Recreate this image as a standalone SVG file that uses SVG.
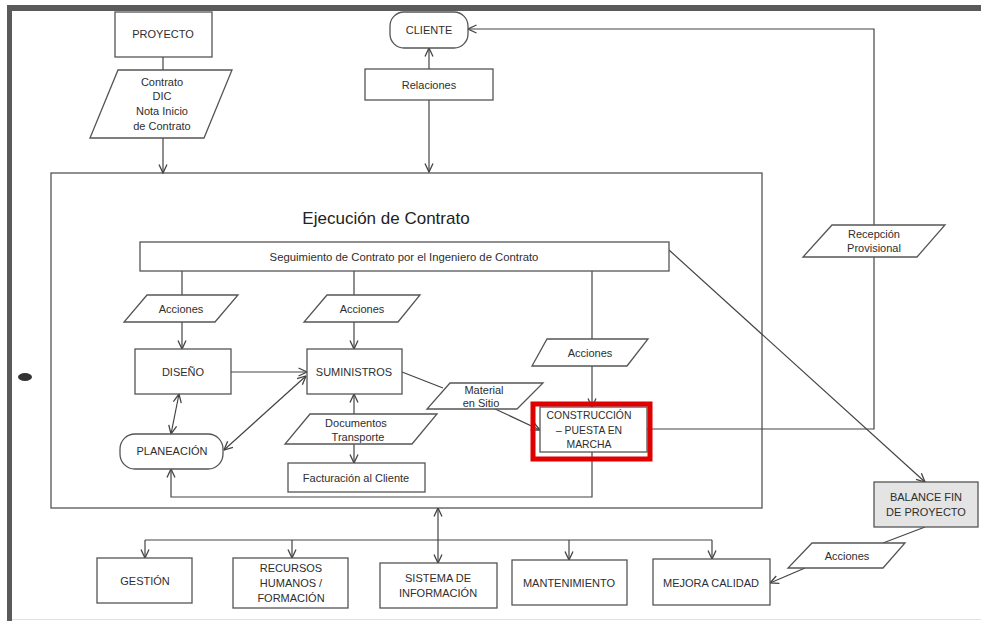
<svg xmlns="http://www.w3.org/2000/svg" width="981" height="621" viewBox="0 0 981 621">
<style>
.b{fill:#fff;stroke:#555;stroke-width:1.3}
.g{fill:#e4e4e4;stroke:#555;stroke-width:1.3}
.c{fill:none;stroke:#444;stroke-width:1.2}
text{font-family:"Liberation Sans",Arial,sans-serif;font-size:11px;fill:#2e2e2e;text-anchor:middle}
.t{font-size:17px;fill:#222}
.s{font-size:10.4px}
</style>
<defs>
<marker id="a" viewBox="0 0 10 10" refX="9.5" refY="5" markerWidth="10" markerHeight="10" markerUnits="userSpaceOnUse" orient="auto-start-reverse">
<path d="M1,1 L9.5,5 L1,9" fill="none" stroke="#444" stroke-width="1.3"/>
</marker>
</defs>
<rect width="981" height="621" fill="#fff"/>
<g id="frame">
<rect x="7" y="5" width="974" height="6" fill="#5a5a5a"/>
<rect x="7" y="5" width="5" height="616" fill="#5a5a5a"/>
<line x1="12" y1="619.5" x2="981" y2="619.5" stroke="#e2e2e2"/>
<ellipse cx="25" cy="377" rx="7" ry="4" fill="#333"/>
</g>
<g id="main-box">
<rect class="b" x="51" y="173" width="711" height="335" fill="none"/>
<text class="t" x="386" y="224">Ejecución de Contrato</text>
</g>
<g id="connectors">
<line class="c" x1="163" y1="57" x2="163" y2="70"/>
<line class="c" x1="163" y1="138" x2="163" y2="173" marker-end="url(#a)"/>
<line class="c" x1="429" y1="69" x2="429" y2="48" marker-end="url(#a)"/>
<line class="c" x1="429" y1="100" x2="429" y2="172" marker-end="url(#a)"/>
<path class="c" d="M647,429 H874 V29 H468" marker-end="url(#a)"/>
<line class="c" x1="182" y1="271" x2="182" y2="295"/>
<line class="c" x1="182" y1="322" x2="182" y2="349" marker-end="url(#a)"/>
<line class="c" x1="354" y1="271" x2="354" y2="295"/>
<line class="c" x1="354" y1="322" x2="354" y2="349" marker-end="url(#a)"/>
<line class="c" x1="592" y1="271" x2="592" y2="339"/>
<line class="c" x1="592" y1="366" x2="592" y2="407" marker-end="url(#a)"/>
<line class="c" x1="231" y1="372" x2="307" y2="372" marker-end="url(#a)"/>
<line class="c" x1="179" y1="394" x2="171" y2="434" marker-start="url(#a)" marker-end="url(#a)"/>
<line class="c" x1="306" y1="376" x2="224" y2="450" marker-start="url(#a)" marker-end="url(#a)"/>
<line class="c" x1="354" y1="414" x2="354" y2="394" marker-end="url(#a)"/>
<line class="c" x1="354" y1="444" x2="354" y2="463" marker-end="url(#a)"/>
<line class="c" x1="402" y1="372" x2="443" y2="388"/>
<line class="c" x1="493" y1="408" x2="540" y2="430" marker-end="url(#a)"/>
<path class="c" d="M592,452 V497 H171 V469" marker-end="url(#a)"/>
<line class="c" x1="669" y1="250" x2="925" y2="482" marker-end="url(#a)"/>
<line class="c" x1="925" y1="527" x2="883" y2="543"/>
<line class="c" x1="805" y1="568" x2="770" y2="583" marker-end="url(#a)"/>
<line class="c" x1="438" y1="508" x2="438" y2="563" marker-start="url(#a)" marker-end="url(#a)"/>
<line class="c" x1="145" y1="540" x2="712" y2="540"/>
<line class="c" x1="145" y1="540" x2="145" y2="558" marker-end="url(#a)"/>
<line class="c" x1="292" y1="540" x2="292" y2="558" marker-end="url(#a)"/>
<line class="c" x1="569" y1="540" x2="569" y2="560" marker-end="url(#a)"/>
<line class="c" x1="712" y1="540" x2="712" y2="559" marker-end="url(#a)"/>
</g>
<g id="proyecto"><rect class="b" x="115" y="12" width="97" height="45"/><text x="163" y="38">PROYECTO</text></g>
<g id="contrato"><polygon class="b" points="118,70 232,70 204,138 90,138"/><text x="162" y="86">Contrato</text><text x="162" y="100">DIC</text><text x="162" y="115">Nota Inicio</text><text x="162" y="130">de Contrato</text></g>
<g id="cliente"><rect class="b" x="390" y="12" width="78" height="36" rx="14"/><text x="429" y="34">CLIENTE</text></g>
<g id="relaciones"><rect class="b" x="365" y="69" width="128" height="31"/><text x="429" y="89">Relaciones</text></g>
<g id="recepcion"><polygon class="b" points="832,225 945,225 917,257 803,257"/><text x="874" y="238">Recepción</text><text x="874" y="252">Provisional</text></g>
<g id="seguimiento"><rect class="b" x="140" y="242" width="529" height="29"/><text x="404" y="261" style="font-size:11.3px">Seguimiento de Contrato por el Ingeniero de Contrato</text></g>
<g id="acciones1"><polygon class="b" points="147,295 238,295 215,322 124,322"/><text x="181" y="313">Acciones</text></g>
<g id="acciones2"><polygon class="b" points="327,295 420,295 398,322 304,322"/><text x="362" y="313">Acciones</text></g>
<g id="acciones3"><polygon class="b" points="547,339 648,339 627,366 532,366"/><text x="590" y="357">Acciones</text></g>
<g id="diseno"><rect class="b" x="135" y="349" width="96" height="45"/><text x="183" y="376">DISEÑO</text></g>
<g id="suministros"><rect class="b" x="307" y="349" width="95" height="45"/><text x="354" y="376">SUMINISTROS</text></g>
<g id="planeacion"><rect class="b" x="120" y="434" width="103" height="35" rx="15"/><text x="172" y="455">PLANEACIÓN</text></g>
<g id="documentos"><polygon class="b" points="310,414 437,414 412,444 285,444"/><text x="356" y="427">Documentos</text><text x="358" y="441">Transporte</text></g>
<g id="facturacion"><rect class="b" x="288" y="463" width="137" height="29"/><text x="356" y="482">Facturación al Cliente</text></g>
<g id="material"><polygon class="b" points="450,383 543,383 517,409 427,409"/><text x="484" y="394">Material</text><text x="481" y="407">en Sitio</text></g>
<g id="construccion"><rect class="b" x="540" y="407" width="107" height="45"/><text class="s" x="589" y="419">CONSTRUCCIÓN</text><text class="s" x="589" y="434">– PUESTA EN</text><text class="s" x="589" y="448">MARCHA</text><rect x="533" y="404" width="117" height="55" fill="none" stroke="#e00000" stroke-width="5"/></g>
<g id="balance"><rect class="g" x="874" y="482" width="104" height="45"/><text x="926" y="501">BALANCE FIN</text><text x="926" y="516">DE PROYECTO</text></g>
<g id="acciones4"><polygon class="b" points="812,543 905,543 883,568 788,568"/><text x="847" y="560">Acciones</text></g>
<g id="gestion"><rect class="b" x="97" y="558" width="95" height="45"/><text x="145" y="585">GESTIÓN</text></g>
<g id="recursos"><rect class="b" x="233" y="558" width="115" height="50"/><text x="291" y="572">RECURSOS</text><text x="291" y="587">HUMANOS /</text><text x="291" y="602">FORMACIÓN</text></g>
<g id="sistema"><rect class="b" x="380" y="563" width="117" height="45"/><text x="438" y="582">SISTEMA DE</text><text x="438" y="597">INFORMACIÓN</text></g>
<g id="mantenimiento"><rect class="b" x="512" y="560" width="115" height="45"/><text x="569" y="587">MANTENIMIENTO</text></g>
<g id="mejora"><rect class="b" x="653" y="559" width="117" height="46"/><text x="711" y="587">MEJORA CALIDAD</text></g>
</svg>
